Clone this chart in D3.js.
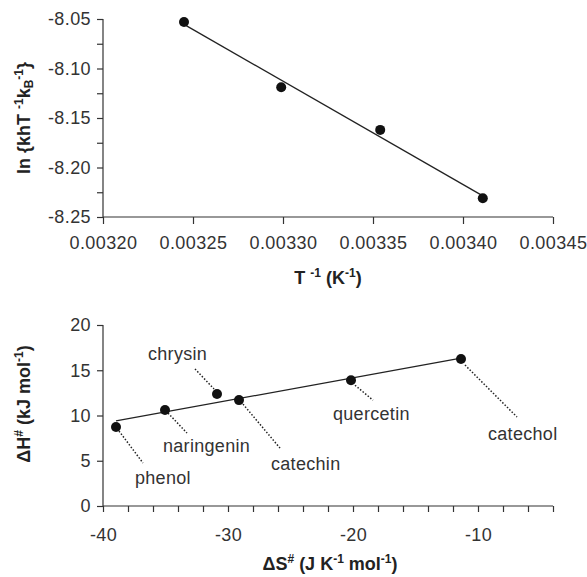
<!DOCTYPE html>
<html>
<head>
<meta charset="utf-8">
<script src="https://cdn.jsdelivr.net/npm/d3@7"></script>
<style>
  body { margin: 0; background: #fff; }
  svg { font-family: "Liberation Sans", Arial, sans-serif; }
  .tick text { font-size: 18px; fill: #333; letter-spacing: 0.4px; }
  .axis path, .axis line { stroke: #333; stroke-width: 1.2; }
  .axis-label { font-size: 18px; font-weight: bold; fill: #222; }
  .name { font-size: 18px; fill: #333; letter-spacing: 0.3px; }
</style>
</head>
<body>
<div id="chart"></div>
<script>
// top panel: Eyring plot
const invT = [0.003245, 0.003299, 0.003354, 0.003411];
const lnK = [-8.053, -8.119, -8.162, -8.231];
const topXTicks = [0.00320, 0.00325, 0.00330, 0.00335, 0.00340, 0.00345];
const topYTicks = [-8.25, -8.20, -8.15, -8.10, -8.05];
const topYMinor = [-8.225, -8.175, -8.125, -8.075];

// bottom panel: isokinetic plot
const compounds = ['phenol', 'naringenin', 'chrysin', 'catechin', 'quercetin', 'catechol'];
const dS = [-38.96, -35.04, -30.88, -29.12, -20.16, -11.36];
const dH = [8.73, 10.6, 12.38, 11.7, 13.9, 16.24];
const botXTicks = [-40, -30, -20, -10];
const botXMinor = [-38, -36, -34, -32, -28, -26, -24, -22, -18, -16, -14, -12, -8, -6, -4];
const botYTicks = [0, 5, 10, 15, 20];

// where each compound name sits relative to its dot (px)
const labelLayout = {
  phenol:     { lead: [3, 4, 27, 36],   text: [19, 57] },
  naringenin: { lead: [3, 3, 22, 23],   text: [-2, 42] },
  chrysin:    { lead: [-22, -25, -3, -5], text: [-69, -34] },
  catechin:   { lead: [4, 4, 41, 48],   text: [32, 70] },
  quercetin:  { lead: [4, 5, 22, 20],   text: [-18, 40] },
  catechol:   { lead: [4, 6, 56, 58],   text: [27, 81] }
};

const W = 587, H = 577;
const svg = d3.select('#chart').append('svg')
  .attr('width', W).attr('height', H);

function fit(xs, ys) {
  const mx = d3.mean(xs), my = d3.mean(ys);
  let sxy = 0, sxx = 0;
  xs.forEach((x, i) => { sxy += (x - mx) * (ys[i] - my); sxx += (x - mx) * (x - mx); });
  const b = sxy / sxx;
  return x => my + b * (x - mx);
}

// ---------- top ----------
const x1 = d3.scaleLinear().domain([0.0032, 0.00345]).range([103, 553]);
const y1 = d3.scaleLinear().domain([-8.25, -8.05]).range([217, 19]);

svg.append('g').attr('class', 'axis')
  .attr('transform', 'translate(0,217)')
  .call(d3.axisBottom(x1).tickValues(topXTicks).tickSize(7).tickPadding(12)
    .tickFormat(d => d.toFixed(5)))
  .call(g => g.select('.domain').attr('d', 'M103,0H553'));

svg.append('g').attr('class', 'axis')
  .attr('transform', 'translate(103,0)')
  .call(d3.axisLeft(y1).tickValues(topYTicks.concat(topYMinor)).tickSize(6).tickPadding(6)
    .tickFormat(d => topYTicks.includes(d) ? d.toFixed(2) : ''))
  .call(g => g.select('.domain').attr('d', 'M0,217V19'));

const line1 = fit(invT, lnK);
const xr1 = d3.extent(invT);
svg.append('line')
  .attr('x1', x1(xr1[0])).attr('y1', y1(line1(xr1[0])))
  .attr('x2', x1(xr1[1])).attr('y2', y1(line1(xr1[1])))
  .attr('stroke', '#222').attr('stroke-width', 1.3);

svg.selectAll('.dot1').data(invT).enter().append('circle')
  .attr('class', 'dot1')
  .attr('cx', d => x1(d)).attr('cy', (d, i) => y1(lnK[i]))
  .attr('r', 5).attr('fill', '#111');

const tl = svg.append('text').attr('class', 'axis-label')
  .attr('x', 328).attr('y', 284).attr('text-anchor', 'middle');
tl.append('tspan').text('T ');
tl.append('tspan').attr('dy', -7).attr('font-size', 12).text('-1');
tl.append('tspan').attr('dy', 7).text(' (K');
tl.append('tspan').attr('dy', -7).attr('font-size', 12).text('-1');
tl.append('tspan').attr('dy', 7).text(')');

const yl = svg.append('text').attr('class', 'axis-label')
  .attr('transform', 'translate(30,118) rotate(-90)').attr('text-anchor', 'middle');
yl.append('tspan').text('ln {khT ');
yl.append('tspan').attr('dy', -7).attr('font-size', 12).text('-1');
yl.append('tspan').attr('dy', 7).text('k');
yl.append('tspan').attr('dy', 3).attr('font-size', 12).text('B');
yl.append('tspan').attr('dy', -10).attr('font-size', 12).text('-1');
yl.append('tspan').attr('dy', 7).text('}');

// ---------- bottom ----------
const x2 = d3.scaleLinear().domain([-40, -4]).range([103, 553]);
const y2 = d3.scaleLinear().domain([0, 20]).range([506, 325]);

svg.append('g').attr('class', 'axis')
  .attr('transform', 'translate(0,506)')
  .call(d3.axisBottom(x2).tickValues(botXTicks.concat(botXMinor)).tickSize(6).tickPadding(16)
    .tickFormat(d => botXTicks.includes(d) ? d : ''))
  .call(g => g.select('.domain').attr('d', 'M103,0H553'));

svg.append('g').attr('class', 'axis')
  .attr('transform', 'translate(103,0)')
  .call(d3.axisLeft(y2).tickValues(botYTicks).tickSize(6).tickPadding(6))
  .call(g => g.select('.domain').attr('d', 'M0,506V325'));

const line2 = fit(dS, dH);
const xr2 = d3.extent(dS);
svg.append('line')
  .attr('x1', x2(xr2[0])).attr('y1', y2(line2(xr2[0])))
  .attr('x2', x2(xr2[1])).attr('y2', y2(line2(xr2[1])))
  .attr('stroke', '#222').attr('stroke-width', 1.3);

compounds.forEach((name, i) => {
  const px = x2(dS[i]), py = y2(dH[i]);
  const L = labelLayout[name];
  svg.append('line')
    .attr('x1', px + L.lead[0]).attr('y1', py + L.lead[1])
    .attr('x2', px + L.lead[2]).attr('y2', py + L.lead[3])
    .attr('stroke', '#222').attr('stroke-width', 1.5)
    .attr('stroke-dasharray', '1.5,1.8');
  svg.append('text').attr('class', 'name')
    .attr('x', px + L.text[0]).attr('y', py + L.text[1])
    .text(name);
});

svg.selectAll('.dot2').data(dS).enter().append('circle')
  .attr('class', 'dot2')
  .attr('cx', d => x2(d)).attr('cy', (d, i) => y2(dH[i]))
  .attr('r', 5).attr('fill', '#111');

const bl = svg.append('text').attr('class', 'axis-label')
  .attr('x', 330).attr('y', 570).attr('text-anchor', 'middle');
bl.append('tspan').text('\u0394S');
bl.append('tspan').attr('dy', -7).attr('font-size', 12).text('#');
bl.append('tspan').attr('dy', 7).text(' (J K');
bl.append('tspan').attr('dy', -7).attr('font-size', 12).text('-1');
bl.append('tspan').attr('dy', 7).text(' mol');
bl.append('tspan').attr('dy', -7).attr('font-size', 12).text('-1');
bl.append('tspan').attr('dy', 7).text(')');

const hl = svg.append('text').attr('class', 'axis-label')
  .attr('transform', 'translate(30,404) rotate(-90)').attr('text-anchor', 'middle');
hl.append('tspan').text('\u0394H');
hl.append('tspan').attr('dy', -7).attr('font-size', 12).text('#');
hl.append('tspan').attr('dy', 7).text(' (kJ mol');
hl.append('tspan').attr('dy', -7).attr('font-size', 12).text('-1');
hl.append('tspan').attr('dy', 7).text(')');
</script>
</body>
</html>
